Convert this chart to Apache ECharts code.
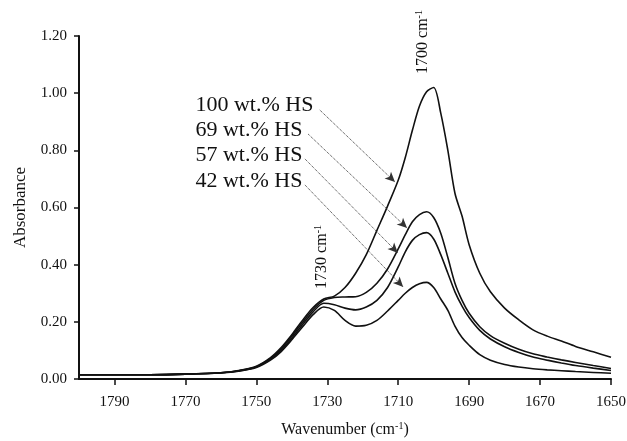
<!DOCTYPE html>
<html><head><meta charset="utf-8">
<script src="https://cdn.jsdelivr.net/npm/echarts@6/dist/echarts.min.js"></script>
<style>html,body{margin:0;padding:0;background:#fff}#c{width:627px;height:441px}</style>
</head><body><div id="c"></div>
<script>
// Data
const wavenumbers = [1800,1790,1780,1770,1760,1755,1750,1746,1743,1740,1737,1734,1731,1728,1725,1722,1719,1716,1713,1710,1708,1706,1704,1702,1700,1698,1696,1694,1692,1690,1687,1684,1680,1676,1672,1668,1664,1660,1655,1650];
const hs100 = [0.015,0.015,0.015,0.017,0.022,0.030,0.045,0.075,0.110,0.155,0.205,0.250,0.280,0.290,0.320,0.370,0.435,0.520,0.605,0.695,0.775,0.870,0.955,1.005,1.020,0.930,0.800,0.650,0.570,0.470,0.370,0.305,0.248,0.207,0.172,0.150,0.133,0.114,0.095,0.076];
const hs69 = [0.015,0.015,0.015,0.017,0.022,0.029,0.043,0.072,0.105,0.150,0.198,0.243,0.275,0.285,0.287,0.288,0.303,0.335,0.385,0.455,0.505,0.550,0.575,0.585,0.565,0.510,0.425,0.335,0.275,0.230,0.183,0.152,0.125,0.104,0.088,0.077,0.067,0.058,0.047,0.037];
const hs57 = [0.015,0.015,0.015,0.017,0.022,0.028,0.042,0.070,0.100,0.143,0.190,0.235,0.265,0.260,0.248,0.242,0.252,0.275,0.320,0.392,0.445,0.485,0.505,0.512,0.490,0.435,0.370,0.305,0.255,0.215,0.170,0.140,0.113,0.093,0.077,0.066,0.056,0.047,0.038,0.030];
const hs42 = [0.015,0.015,0.015,0.017,0.021,0.027,0.040,0.066,0.096,0.137,0.182,0.225,0.252,0.240,0.205,0.185,0.188,0.205,0.238,0.275,0.300,0.320,0.333,0.338,0.320,0.280,0.240,0.185,0.145,0.118,0.085,0.066,0.051,0.042,0.036,0.032,0.029,0.026,0.023,0.020];
const seriesNames = ['100 wt.% HS','69 wt.% HS','57 wt.% HS','42 wt.% HS'];
const xTicks = [1790,1770,1750,1730,1710,1690,1670,1650];
const yTicks = [0,0.2,0.4,0.6,0.8,1.0,1.2];

const font = 'Liberation Serif';
const chart = echarts.init(document.getElementById('c'), null, {renderer:'canvas'});
const mk = arr => wavenumbers.map((w,i)=>[w, arr[i]]);
const lineStyle = {color:'#111', width:1.6};

const labelPos = [[1767.3,0.959],[1767.3,0.871],[1767.3,0.784],[1767.3,0.693]];
const arrows = [
  [[1732.1,0.941],[1710.9,0.689]],
  [[1735.4,0.857],[1707.5,0.528]],
  [[1736.3,0.770],[1710.1,0.441]],
  [[1736.3,0.679],[1708.6,0.322]]
];
const supRich = {n:{fontFamily:font,fontSize:16,color:'#111',lineHeight:18},s:{fontFamily:font,fontSize:10,color:'#111',verticalAlign:'top',lineHeight:18,padding:[0,0,8,0]}};

const option = {
  animation:false,
  backgroundColor:'#fff',
  grid:{left:79,right:16,top:36,bottom:62,outerBoundsMode:'none',containLabel:false},
  xAxis:{
    type:'value', min:1650, max:1800, interval:20, inverse:true,
    name:'{n|Wavenumber (cm}{s|-1}{n|)}', nameLocation:'middle', nameGap:42,
    nameTextStyle:{rich:supRich},
    axisLine:{show:true,onZero:false,lineStyle:{color:'#111',width:2}},
    axisTick:{show:true,inside:false,length:6,customValues:xTicks,lineStyle:{color:'#111',width:1.5}},
    axisLabel:{customValues:xTicks,margin:16,fontFamily:font,fontSize:15,color:'#111',formatter:v=>String(v)},
    splitLine:{show:false}
  },
  yAxis:{
    type:'value', min:0, max:1.2, interval:0.2,
    name:'Absorbance', nameLocation:'middle', nameGap:50,
    nameTextStyle:{fontFamily:font,fontSize:17,color:'#111'},
    axisLine:{show:true,lineStyle:{color:'#111',width:2}},
    axisTick:{show:true,inside:false,length:5,lineStyle:{color:'#111',width:1.5}},
    axisLabel:{margin:12,fontFamily:font,fontSize:15,color:'#111',formatter:v=>v.toFixed(2)},
    splitLine:{show:false}
  },
  series:[
    {name:seriesNames[0],type:'line',data:mk(hs100),smooth:0.3,symbol:'none',lineStyle,
     markLine:{silent:true,symbol:['none','arrow'],symbolSize:[7,10],animation:false,
       lineStyle:{type:'dotted',color:'#333',width:1},label:{show:false},
       data:arrows.map(a=>[{coord:a[0]},{coord:a[1]}])},
     markPoint:{silent:true,symbol:'circle',symbolSize:1,itemStyle:{color:'rgba(0,0,0,0)'},
       data:[
         ...seriesNames.map((n,i)=>({coord:labelPos[i],value:n,label:{show:true,position:'right',distance:0,formatter:n,fontFamily:font,fontSize:22,color:'#111'}})),
         {coord:[1703,1.179],label:{show:true,position:'inside',rotate:90,formatter:'{n|1700 cm}{s|-1}',rich:supRich}},
         {coord:[1731.5,0.427],label:{show:true,position:'inside',rotate:90,formatter:'{n|1730 cm}{s|-1}',rich:supRich}}
       ]}
    },
    {name:seriesNames[1],type:'line',data:mk(hs69),smooth:0.3,symbol:'none',lineStyle},
    {name:seriesNames[2],type:'line',data:mk(hs57),smooth:0.3,symbol:'none',lineStyle},
    {name:seriesNames[3],type:'line',data:mk(hs42),smooth:0.3,symbol:'none',lineStyle}
  ]
};
chart.setOption(option);
</script></body></html>
